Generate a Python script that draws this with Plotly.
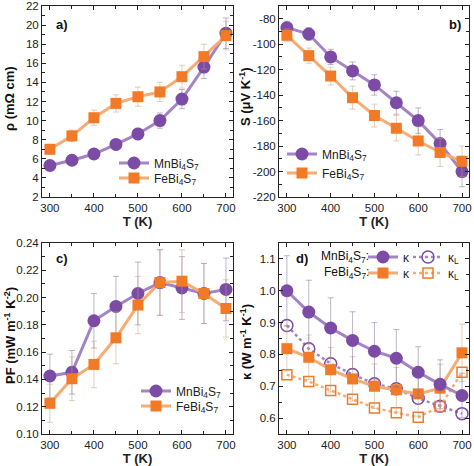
import plotly.graph_objects as go

T = [300, 350, 400, 450, 500, 550, 600, 650, 700]

rho_mn = [5.3, 5.85, 6.5, 7.5, 8.6, 10.0, 12.25, 15.6, 19.15]
rho_mn_err = [0.4, 0.4, 0.4, 0.5, 0.6, 0.8, 1.0, 1.2, 1.6]
rho_fe = [7.0, 8.4, 10.3, 11.8, 12.5, 13.0, 14.6, 16.7, 18.9]
rho_fe_err = [0.5, 0.6, 0.8, 0.9, 1.0, 1.0, 1.2, 1.3, 1.5]

s_mn = [-87, -92, -110, -121, -132, -146, -160, -178, -200]
s_mn_err = [5, 5, 6, 7, 8, 9, 10, 11, 12]
s_fe = [-93, -109, -125, -142, -156, -166, -176, -185, -192]
s_fe_err = [5, 6, 7, 9, 9, 10, 11, 11, 12]

pf_mn = [0.1425, 0.1452, 0.183, 0.1935, 0.203, 0.211, 0.207, 0.203, 0.206]
pf_mn_err = [0.016, 0.016, 0.020, 0.022, 0.023, 0.024, 0.023, 0.022, 0.023]
pf_fe = [0.1225, 0.1405, 0.151, 0.1705, 0.1945, 0.211, 0.212, 0.203, 0.192]
pf_fe_err = [0.014, 0.016, 0.017, 0.019, 0.021, 0.024, 0.023, 0.022, 0.021]

k_mn = [1.0, 0.933, 0.883, 0.844, 0.81, 0.788, 0.744, 0.706, 0.671]
k_mn_err = [0.11, 0.10, 0.095, 0.09, 0.09, 0.09, 0.08, 0.077, 0.07]
kl_mn = [0.891, 0.818, 0.771, 0.737, 0.708, 0.692, 0.662, 0.637, 0.614]
k_fe = [0.818, 0.791, 0.752, 0.723, 0.70, 0.689, 0.676, 0.694, 0.805]
k_fe_err = [0.07, 0.07, 0.07, 0.07, 0.07, 0.07, 0.07, 0.075, 0.09]
kl_fe = [0.736, 0.715, 0.687, 0.659, 0.632, 0.617, 0.603, 0.636, 0.744]

s_ticks = [-220, -200, -180, -160, -140, -120, -100, -80]
s_ticktext = ["-220", "-200", "-180", "-160", "-140", "-120", "-100", "-80"]

MN_M = "#7B4BA6"
MN_L = "#A384C6"
FE_M = "#F27A26"
FE_L = "#F7AC74"
MN_E = "rgba(130,110,150,0.5)"
FE_E = "rgba(200,160,120,0.5)"

FONT = "Liberation Sans, Arial, sans-serif"
mn_name = "MnBi<sub>4</sub>S<sub>7</sub>"
fe_name = "FeBi<sub>4</sub>S<sub>7</sub>"

fig = go.Figure()

def add_pair(xa, ya, ymn, emn, yfe, efe, leg_mn, leg_fe):
    fig.add_trace(go.Scatter(x=T, y=ymn, name=mn_name, xaxis=xa, yaxis=ya, legend=leg_mn,
                             mode="lines+markers", showlegend=True,
                             line=dict(color=MN_L, width=3),
                             marker=dict(symbol="circle", size=13, color=MN_M),
                             error_y=dict(type="data", array=emn, color=MN_E, thickness=1, width=3)))
    fig.add_trace(go.Scatter(x=T, y=yfe, name=fe_name, xaxis=xa, yaxis=ya, legend=leg_fe,
                             mode="lines+markers", showlegend=True,
                             line=dict(color=FE_L, width=3),
                             marker=dict(symbol="square", size=11, color=FE_M),
                             error_y=dict(type="data", array=efe, color=FE_E, thickness=1, width=3)))

add_pair("x", "y", rho_mn, rho_mn_err, rho_fe, rho_fe_err, "legend", "legend2")
add_pair("x2", "y2", s_mn, s_mn_err, s_fe, s_fe_err, "legend3", "legend4")
add_pair("x3", "y3", pf_mn, pf_mn_err, pf_fe, pf_fe_err, "legend5", "legend6")

# panel d
fig.add_trace(go.Scatter(x=T, y=kl_mn, name="κ<sub>L</sub>", xaxis="x4", yaxis="y4", legend="legend8",
                         mode="lines+markers", showlegend=True,
                         line=dict(color=MN_L, width=2.5, dash="dot"),
                         marker=dict(symbol="circle-open", size=12, color=MN_M, line=dict(width=1.5))))
fig.add_trace(go.Scatter(x=T, y=kl_fe, name="κ<sub>L</sub>", xaxis="x4", yaxis="y4", legend="legend10",
                         mode="lines+markers", showlegend=True,
                         line=dict(color=FE_L, width=2.5, dash="dot"),
                         marker=dict(symbol="square-open", size=10, color=FE_M, line=dict(width=1.5))))
fig.add_trace(go.Scatter(x=T, y=k_fe, name="κ", xaxis="x4", yaxis="y4", legend="legend9",
                         mode="lines+markers", showlegend=True,
                         line=dict(color=FE_L, width=3),
                         marker=dict(symbol="square", size=11, color=FE_M),
                         error_y=dict(type="data", array=k_fe_err, color=FE_E, thickness=1, width=3)))
fig.add_trace(go.Scatter(x=T, y=k_mn, name="κ", xaxis="x4", yaxis="y4", legend="legend7",
                         mode="lines+markers", showlegend=True,
                         line=dict(color=MN_L, width=3),
                         marker=dict(symbol="circle", size=13, color=MN_M),
                         error_y=dict(type="data", array=k_mn_err, color=MN_E, thickness=1, width=3)))

W, H = 474, 466
def px(v):
    return v / W
def py(v):
    return 1 - v / H

xdom_l = [px(42), px(233)]
xdom_r = [px(279), px(469)]
ydom_t = [py(197), py(6)]
ydom_b = [py(434), py(243)]

def xax(dom, anchor):
    return dict(domain=dom, anchor=anchor, range=[282, 716], tickvals=[300, 400, 500, 600, 700],
                ticks="inside", ticklen=4, tickcolor="#222", mirror="ticks", showline=True,
                linecolor="#222", linewidth=1, showgrid=False, zeroline=False, automargin=False,
                minor=dict(dtick=50, tick0=0, ticks="inside", ticklen=3, tickcolor="#222"),
                tickfont=dict(size=11.5, color="#222", family=FONT),
                title=dict(text="<b>T (K)</b>", font=dict(size=13, color="#222", family=FONT), standoff=2))

def yax(dom, anchor, rng, dtick, mdtick, fmt=None):
    d = dict(domain=dom, anchor=anchor, range=rng, dtick=dtick, tick0=0,
             ticks="inside", ticklen=4, tickcolor="#222", mirror="ticks", showline=True,
             linecolor="#222", linewidth=1, showgrid=False, zeroline=False, automargin=False,
             minor=dict(dtick=mdtick, ticks="inside", ticklen=3, tickcolor="#222"),
             tickfont=dict(size=11.5, color="#222", family=FONT))
    if fmt:
        d["tickformat"] = fmt
    return d

leg_font = dict(size=12, color="#222", family=FONT)

def leg(xtext, ycenter):
    # xtext: desired left edge of legend text (px); ycenter: item center (px)
    return dict(x=px(xtext - 45), y=py(ycenter), xanchor="left", yanchor="middle", visible=True,
                font=leg_font, bgcolor="rgba(0,0,0,0)", itemwidth=30, orientation="h")

def lbl(text, x, y, anchor="center", size=13, bold=True, angle=0):
    return dict(text=("<b>%s</b>" % text) if bold else text, x=px(x), y=py(y), xref="paper", yref="paper",
                showarrow=False, xanchor=anchor, yanchor="middle", textangle=angle,
                font=dict(size=size, color="#111", family=FONT))

yax2 = yax(ydom_t, "x2", [-220, -70], 20, 10)
yax2.update(tickvals=s_ticks, ticktext=s_ticktext)
yax2.pop("dtick")

fig.update_layout(
    width=W, height=H, margin=dict(l=0, r=0, t=0, b=0, autoexpand=False),
    showlegend=True,
    paper_bgcolor="white", plot_bgcolor="white",
    font=dict(family=FONT, color="#222"),
    xaxis=xax(xdom_l, "y"),
    yaxis=yax(ydom_t, "x", [2, 22], 2, 1),
    xaxis2=xax(xdom_r, "y2"),
    yaxis2=yax2,
    xaxis3=xax(xdom_l, "y3"),
    yaxis3=yax(ydom_b, "x3", [0.10, 0.24], 0.02, 0.01, ".2f"),
    xaxis4=xax(xdom_r, "y4"),
    yaxis4=yax(ydom_b, "x4", [0.55, 1.15], 0.1, 0.05, ".1f"),
    legend=leg(159, 163),
    legend2=leg(159, 178),
    legend3=leg(327, 154),
    legend4=leg(327, 173),
    legend5=leg(181, 391),
    legend6=leg(181, 406),
    legend7=leg(408, 257),
    legend8=leg(453, 257),
    legend9=leg(408, 273),
    legend10=leg(453, 273),
    annotations=[
        lbl("a)", 62, 25), lbl("b)", 455, 25), lbl("c)", 62, 258), lbl("d)", 302, 258),
        lbl(mn_name + ":", 371, 257, anchor="right", size=12, bold=False),
        lbl(fe_name + ":", 371, 273, anchor="right", size=12, bold=False),
        lbl("ρ (mΩ cm)", 10, 99, angle=-90),
        lbl("S (μV K<sup>-1</sup>)", 245, 97, angle=-90),
        lbl("PF (mW m<sup>-1</sup> K<sup>-2</sup>)", 10, 336, angle=-90),
        lbl("κ (W m<sup>-1</sup> K<sup>-1</sup>)", 246, 342, angle=-90),
    ],
)

fig.write_html("out.html", config={"displayModeBar": False},
               post_script="document.body.style.margin='0';document.body.style.overflow='hidden';")
